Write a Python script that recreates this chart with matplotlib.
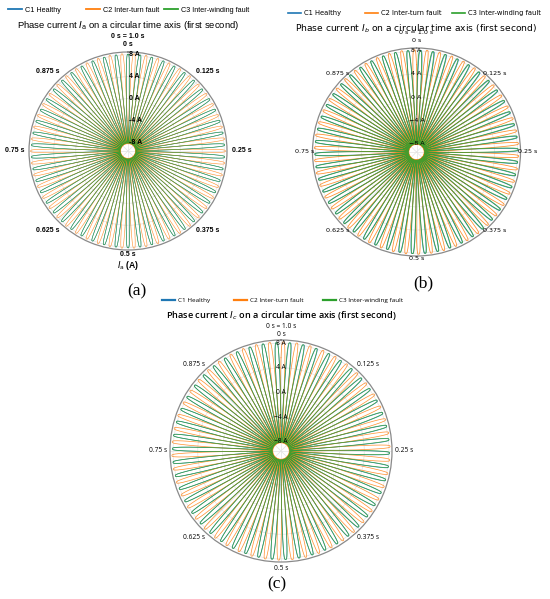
import numpy as np
import matplotlib
matplotlib.use("Agg")
import matplotlib.pyplot as plt

# ---- data ----
series_labels = ["C1 Healthy", "C2 Inter-turn fault", "C3 Inter-winding fault"]
series_colors = ["#1f77b4", "#ff7f0e", "#2ca02c"]
# phase-current parameters (50 petals per second -> 50 Hz, slightly flat-topped)
amplitude_a = [8.1, 8.2, 8.1]
amplitude_b = [8.1, 8.2, 8.1]
amplitude_c = [8.1, 8.2, 8.1]
frequency_hz = [50.0, 50.0, 49.97]
third_harmonic_ratio = [0.11, 0.11, 0.11]
phase_a_deg = [0.0, 180.0, 6.0]
phase_b_deg = [-120.0, 60.0, -105.0]
phase_c_deg = [120.0, 300.0, 130.0]
time_ticks_s = [0.0, 0.125, 0.25, 0.375, 0.5, 0.625, 0.75, 0.875]
time_tick_labels = ["0 s", "0.125 s", "0.25 s", "0.375 s", "0.5 s", "0.625 s", "0.75 s", "0.875 s"]
current_ticks = [-8, -4, 0, 4, 8]
current_labels_a = ["-8 A", "-4 A", "0 A", "4 A", "8 A"]
current_labels_bc = ["\u22128 A", "\u22124 A", "0 A", "4 A", "8 A"]

R_MIN, R_MAX = -9.5, 8.5
t = np.linspace(0.0, 1.0, 30001)

W, H = 550, 599
fig = plt.figure(figsize=(W / 100, H / 100), dpi=100)


def rect(cx, cy, r):
    return [(cx - r) / W, (H - cy - r) / H, 2 * r / W, 2 * r / H]


def current(i, amp, phase_deg):
    ph = 2 * np.pi * frequency_hz[i] * t + np.deg2rad(phase_deg)
    k = third_harmonic_ratio[i]
    return amp * (np.cos(ph) - k * np.cos(3 * ph)) / (1 - k)


def panel(cx, cy, R, amps, phases, font, lw, tick_fs, gaps, rlab_left, rlabels,
          title, title_fs, title_y, top_y, legend_y, legend_xs, leg_fs, leg_handle,
          leg_lw, tag, tag_xy, xlabel=None, title_weight="normal",
          tick_weight="normal"):
    ax = fig.add_axes(rect(cx, cy, R), projection="polar")
    ax.set_theta_zero_location("N")
    ax.set_theta_direction(-1)
    lines = []
    for i in range(3):
        ln, = ax.plot(2 * np.pi * t, current(i, amps[i], phases[i]),
                      color=series_colors[i], lw=lw, label=series_labels[i],
                      zorder=2, alpha=0.85)
        lines.append(ln)
    ax.set_ylim(R_MIN, R_MAX)
    ax.set_xticks(2 * np.pi * np.array(time_ticks_s))
    ax.set_xticklabels([])
    ax.set_yticks(current_ticks)
    ax.set_yticklabels([])
    ax.tick_params(length=0)
    ax.grid(True, color="#e3e3e3", lw=0.5)
    ax.spines["polar"].set_color("#8a8a8a")
    ax.spines["polar"].set_linewidth(0.9)
    # time labels around the circle
    g_top, g_diag, g_side, g_bot = gaps
    for ts, lab in zip(time_ticks_s, time_tick_labels):
        th = 2 * np.pi * ts
        s, c = np.sin(th), np.cos(th)
        if abs(s) < 0.1:
            g = g_top if c > 0 else g_bot
        elif abs(c) < 0.1:
            g = g_side
        else:
            g = g_diag
        ax.annotate(lab, xy=(th, R_MAX), xycoords="data",
                    xytext=(g * s, g * c), textcoords="offset pixels",
                    ha="center", va="center", fontsize=tick_fs, family=font,
                    weight=tick_weight, annotation_clip=False, zorder=6)
    # current labels along the 0 s direction
    for v, lab in zip(current_ticks, rlabels):
        ax.annotate(lab, xy=(0.0, v), xycoords="data",
                    xytext=(1 if rlab_left else 0, 0), textcoords="offset pixels",
                    ha="left" if rlab_left else "center", va="center",
                    fontsize=tick_fs, family=font, weight=tick_weight, zorder=6)
    fig.text(cx / W, 1 - title_y / H, title, ha="center", va="center",
             fontsize=title_fs, family=font, weight=title_weight)
    fig.text(cx / W, 1 - top_y / H, "0 s = 1.0 s", ha="center", va="center",
             fontsize=tick_fs, family=font, weight=tick_weight)
    if xlabel:
        fig.text(cx / W, 1 - (cy + R + 15) / H, xlabel, ha="center", va="center",
                 fontsize=tick_fs + 1.2, family=font, weight=tick_weight)
    # one legend entry per series, placed where the reference puts it
    for ln, lx in zip(lines, legend_xs):
        leg = fig.legend(handles=[ln], loc="center left",
                         bbox_to_anchor=(lx / W, 1 - legend_y / H),
                         frameon=False, prop={"family": font, "size": leg_fs},
                         handlelength=leg_handle, handletextpad=0.45,
                         borderpad=0, borderaxespad=0)
        for lh in leg.get_lines():
            lh.set_linewidth(leg_lw)
            lh.set_alpha(1)
    fig.text(tag_xy[0] / W, 1 - tag_xy[1] / H, tag, ha="center", va="center",
             fontsize=12.5, family="Liberation Serif")
    return ax


panel(128, 151, 99, amplitude_a, phase_a_deg, "Liberation Sans", 0.42, 5.0,
      (7, 14, 14.5, 4), True, current_labels_a,
      "Phase current $I_{\\mathrm{a}}$ on a circular time axis (first second)", 6.8, 25,
      37, 10, (8, 86, 164), 5.2, 1.9, 1.3, "(a)", (137, 291),
      xlabel="$I_{\\mathrm{a}}$ (A)", tick_weight="bold")
panel(416.5, 152, 104, amplitude_b, phase_b_deg, "DejaVu Sans", 0.58, 4.6,
      (7, 7, 7.5, 3), False, current_labels_bc,
      "Phase current $I_b$ on a circular time axis (first second)", 6.55, 29,
      33, 13, (288, 365, 452), 4.9, 1.9, 1.2, "(b)", (423, 283))
panel(281, 451, 111, amplitude_c, phase_c_deg, "Open Sans", 0.52, 4.8,
      (6, 11.5, 12, 6), False, current_labels_bc,
      "Phase current $I_c$ on a circular time axis (first second)", 6.6, 316,
      327, 300, (162, 234, 323), 4.6, 2.0, 1.6, "(c)", (277, 584),
      title_weight="semibold")

fig.savefig("out.png", dpi=100)
